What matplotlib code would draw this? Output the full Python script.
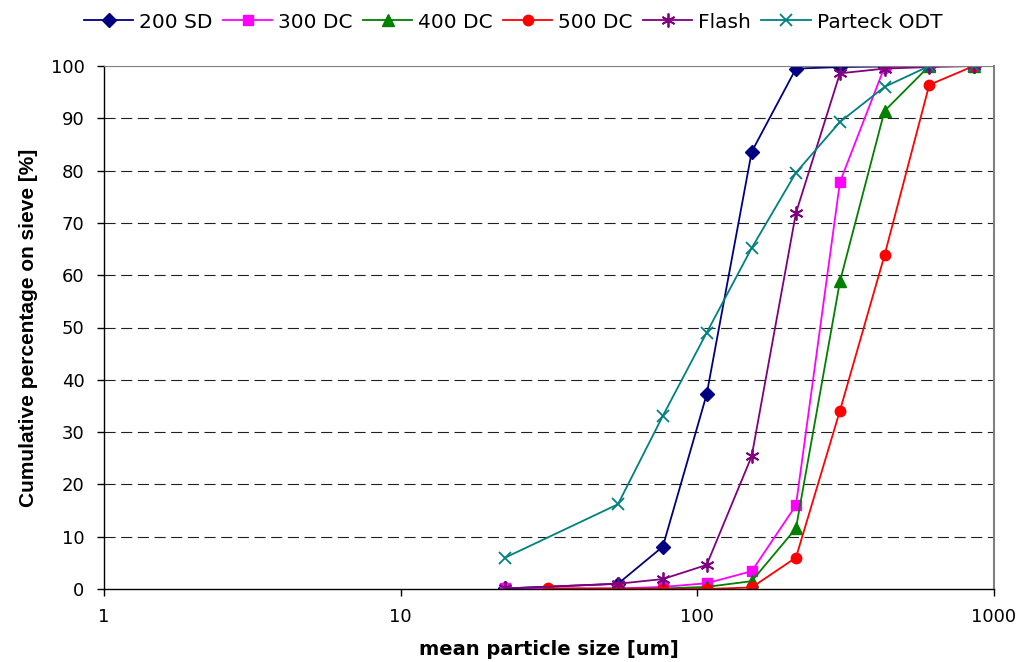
import numpy as np
import matplotlib
matplotlib.use('Agg')
import matplotlib.pyplot as plt

plt.rcParams.update({'font.family': ['DejaVu Sans'], 'font.size': 13})

# mean sieve fraction sizes (um)
size_all = [22.5, 54, 76.5, 107.5, 152.5, 215, 302.5, 427.5, 605, 855]
size_dc = [31.5, 54, 76.5, 107.5, 152.5, 215, 302.5, 427.5, 605, 855]

# cumulative percentage on sieve
sd200 = [0.1, 1.0, 8.1, 37.2, 83.6, 99.5, 99.8, 99.9, 100, 100]
dc300 = [0.1, 0.1, 0.4, 1.1, 3.4, 16.0, 77.8, 99.8, 100, 100]
dc400 = [0.0, 0.0, 0.1, 0.4, 1.5, 11.6, 58.8, 91.4, 100, 100]
dc500 = [0.1, 0.1, 0.0, 0.0, 0.3, 6.0, 34.1, 63.8, 96.4, 100]
flash = [0.1, 1.0, 1.9, 4.6, 25.4, 71.9, 98.6, 99.5, 99.8, 100]
parteck = [6.0, 16.2, 33.1, 49.0, 65.2, 79.6, 89.3, 96.0, 100, 100]

labels = ['200 SD', '300 DC', '400 DC', '500 DC', 'Flash', 'Parteck ODT']

fig = plt.figure(figsize=(10.22, 6.62), dpi=100)
ax = fig.add_axes([104/1022, 1-589/662, (994-104)/1022, (589-66)/662])

lw = 1.3
ax.plot(size_all, sd200, color='#000080', marker='D', markersize=7, lw=lw, label=labels[0])
ax.plot(size_all, dc300, color='#FF00FF', marker='s', markersize=6.8, lw=lw, label=labels[1])
ax.plot(size_dc, dc400, color='#008000', marker='^', markersize=8.5, lw=lw, label=labels[2])
ax.plot(size_dc, dc500, color='#FF0000', marker='o', markersize=7.5, lw=lw, label=labels[3])
ax.plot(size_all, flash, color='#800080', marker=(6, 2, 0), markersize=10, mew=1.3, lw=lw, label=labels[4])
ax.plot(size_all, parteck, color='#008080', marker='x', markersize=8, mew=1.3, lw=lw, label=labels[5])

ax.set_xscale('log')
ax.set_xlim(1, 1000)
ax.set_ylim(0, 100)
ax.set_xticks([1, 10, 100, 1000])
ax.set_xticklabels(['1', '10', '100', '1000'])
ax.xaxis.set_minor_locator(matplotlib.ticker.NullLocator())
ax.set_yticks(range(0, 101, 10))
ax.tick_params(direction='out', length=5, width=1, colors='black', labelsize=13)
ax.tick_params(axis='y', pad=9)
ax.tick_params(axis='x', pad=9)

for y in range(10, 100, 10):
    ax.axhline(y, color='#202020', lw=0.8, dashes=(10, 5), zorder=0)
ax.axhline(100, color='#808080', lw=1.5, zorder=0)

ax.spines['top'].set_color('#808080')
ax.spines['right'].set_color('#808080')
ax.spines['right'].set_linewidth(1.5)
ax.spines['left'].set_linewidth(1.0)
ax.spines['bottom'].set_linewidth(1.0)

ax.set_xlabel('mean particle size [um]', fontweight='bold', fontsize=14, labelpad=10)
ax.set_ylabel('Cumulative percentage on sieve [%]', family='Liberation Sans',
              fontweight='bold', fontsize=15, labelpad=9)

fig.legend(loc='center', bbox_to_anchor=(0.502, 1 - 22/662), ncol=6, frameon=False,
           handlelength=2.45, columnspacing=0.5, handletextpad=0.3, fontsize=14.5)

fig.savefig('out.png', dpi=100)
